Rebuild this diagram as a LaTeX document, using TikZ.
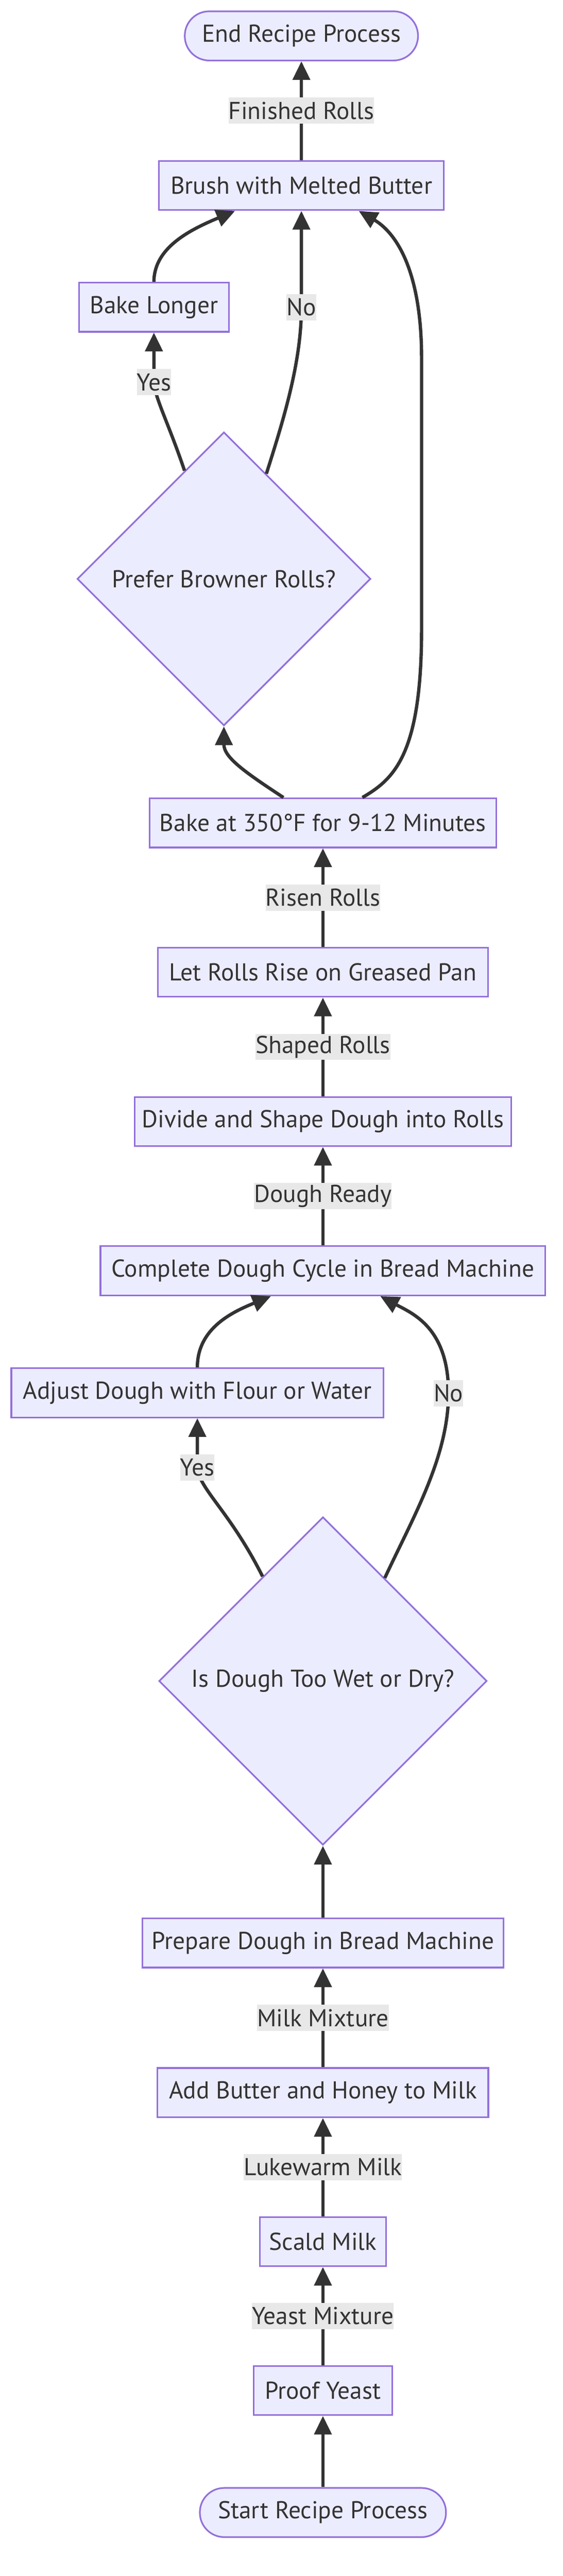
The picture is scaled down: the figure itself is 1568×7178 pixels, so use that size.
\documentclass[tikz,border=0pt]{standalone}
\usepackage{fontspec}
\setmainfont{PT Sans}
\usepackage{xcolor}
\usetikzlibrary{shapes,arrows.meta,positioning,calc}

\definecolor{boxfill}{HTML}{ECECFF}
\definecolor{boxline}{HTML}{9370DB}
\definecolor{ink}{HTML}{333333}
\definecolor{lblfill}{HTML}{E8E8E8}

\tikzset{
  txt/.style={text=ink,font=\fontsize{17}{21}\selectfont},
  stepbox/.style={txt,rectangle,draw=boxline,fill=boxfill,line width=1.15pt,
    minimum height=34.25pt,inner sep=0pt},
  termbox/.style={stepbox,rounded corners=17pt},
  askbox/.style={txt,diamond,aspect=1,draw=boxline,fill=boxfill,line width=1.15pt,
    inner sep=0pt,minimum width=#1,minimum height=#1},
  flow/.style={draw=ink,line width=2.3pt,-{Triangle[length=13pt,width=12pt]}},
  lbl/.style={txt,fill=lblfill,inner sep=0pt,minimum height=18.25pt}
}

\begin{document}
\begin{tikzpicture}[x=0.25pt,y=-0.25pt]
% Page
\fill[white] (0,0) rectangle (1568,7178);
\useasboundingbox (0,0) rectangle (1568,7178);

% Finish part
\node[termbox,minimum width=162.5pt] (endp) at (840,100) {End Recipe Process};
\node[stepbox,minimum width=198.5pt] (brush) at (840,517) {Brush with Melted Butter};
\node[stepbox,minimum width=104.5pt] (longer) at (429,856) {Bake Longer};
\node[askbox=204.5pt] (brown) at (624,1613) {Prefer Browner Rolls?};
\node[stepbox,minimum width=241.5pt] (bake) at (900,2293) {Bake at 350°F for 9-12 Minutes};

% Shaping part
\node[stepbox,minimum width=230pt] (rise) at (900,2709) {Let Rolls Rise on Greased Pan};
\node[stepbox,minimum width=262.5pt] (divide) at (900,3125) {Divide and Shape Dough into Rolls};
\node[stepbox,minimum width=310pt] (cycle) at (900,3541) {Complete Dough Cycle in Bread Machine};
\node[stepbox,minimum width=259.25pt] (adjust) at (550,3881) {Adjust Dough with Flour or Water};
\node[askbox=228.5pt] (wet) at (900,4684) {Is Dough Too Wet or Dry?};

% Dough part
\node[stepbox,minimum width=251.5pt] (prep) at (900,5414) {Prepare Dough in Bread Machine};
\node[stepbox,minimum width=230.5pt] (addb) at (900,5831) {Add Butter and Honey to Milk};
\node[stepbox,minimum width=88pt] (scald) at (900,6246) {Scald Milk};
\node[stepbox,minimum width=96.5pt] (proof) at (900,6661) {Proof Yeast};
\node[termbox,minimum width=171.5pt] (start) at (900,7001) {Start Recipe Process};

% Straight links
\draw[flow] (start) -- (proof);
\draw[flow] (prep) -- (wet);
\foreach \a/\b/\t in {proof/scald/Yeast Mixture,scald/addb/Lukewarm Milk,
    addb/prep/Milk Mixture,cycle/divide/Dough Ready,divide/rise/Shaped Rolls,
    rise/bake/Risen Rolls,brush/endp/Finished Rolls}
    \draw[flow] (\a) -- node[lbl] {\t} (\b);

% Dough check
\draw[flow] (wet.120) .. controls (640,4210) and (555,4150) .. (550,4089)
    node[lbl] {Yes} -- (adjust);
\draw[flow] (wet.59) .. controls (1150,4230) and (1250,4060) .. (1250,3882)
    node[lbl] {No} .. controls (1250,3700) and (1150,3660) .. ($(cycle.south)+(160,0)$);
\draw[flow] (adjust.north) .. controls (550,3700) and (650,3655) .. ($(cycle.south)+(-145,0)$);

% Browning check
\draw[flow] ($(bake.north)+(-110,0)$) .. controls (680,2150) and (624,2110) .. (brown.south);
\draw[flow] ($(bake.north)+(110,0)$) .. controls (1100,2170) and (1175,2100) .. (1175,1750)
    -- (1175,1000) .. controls (1175,730) and (1090,640) .. ($(brush.south)+(160,0)$);
\draw[flow] (brown.110) .. controls (470,1180) and (432,1110) .. (429,1065)
    node[lbl] {Yes} -- (longer);
\draw[flow] (brown.68) .. controls (790,1170) and (840,1010) .. (840,856)
    node[lbl] {No} -- (brush);
\draw[flow] (longer.north) .. controls (429,690) and (530,640) .. ($(brush.south)+(-185,0)$);
\end{tikzpicture}
\end{document}
